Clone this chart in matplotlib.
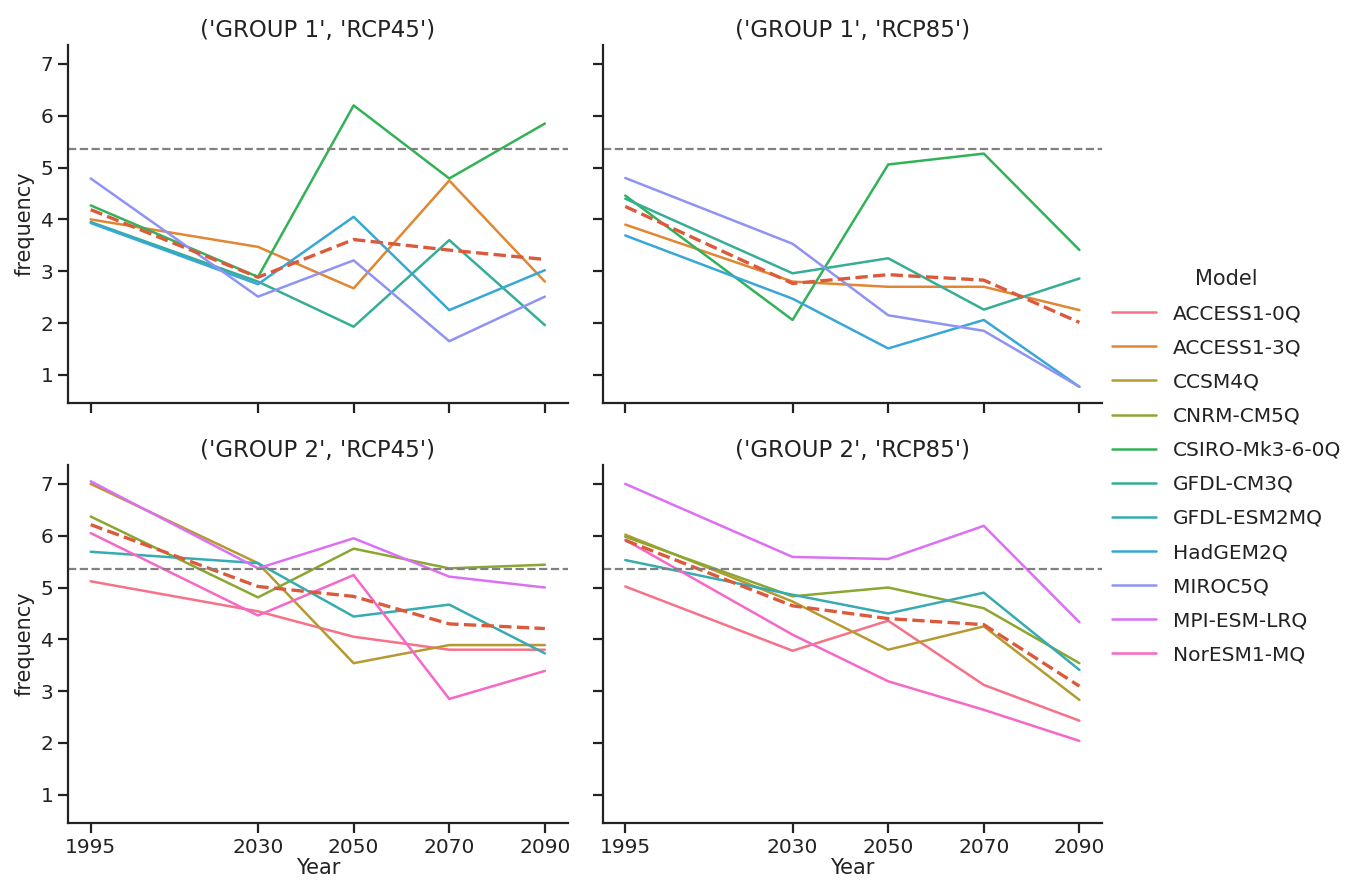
import numpy as np
import pandas as pd
import matplotlib
matplotlib.use("Agg")
import matplotlib.pyplot as plt
import seaborn as sns

# ── Data ──────────────────────────────────────────────────
years = [1995, 2030, 2050, 2070, 2090]
models = ["ACCESS1-0Q", "ACCESS1-3Q", "CCSM4Q", "CNRM-CM5Q", "CSIRO-Mk3-6-0Q",
          "GFDL-CM3Q", "GFDL-ESM2MQ", "HadGEM2Q", "MIROC5Q", "MPI-ESM-LRQ",
          "NorESM1-MQ"]
panels = [("GROUP 1", "RCP45"), ("GROUP 1", "RCP85"),
          ("GROUP 2", "RCP45"), ("GROUP 2", "RCP85")]

g1_rcp45 = {
    "ACCESS1-3Q":     [4.00, 3.47, 2.67, 4.75, 2.80],
    "CSIRO-Mk3-6-0Q": [4.27, 2.89, 6.20, 4.79, 5.85],
    "GFDL-CM3Q":      [3.95, 2.80, 1.93, 3.60, 1.96],
    "HadGEM2Q":       [3.93, 2.75, 4.05, 2.25, 3.02],
    "MIROC5Q":        [4.79, 2.51, 3.21, 1.65, 2.51],
}
g1_rcp85 = {
    "ACCESS1-3Q":     [3.90, 2.80, 2.70, 2.70, 2.25],
    "CSIRO-Mk3-6-0Q": [4.46, 2.06, 5.06, 5.27, 3.41],
    "GFDL-CM3Q":      [4.40, 2.96, 3.25, 2.26, 2.86],
    "HadGEM2Q":       [3.69, 2.47, 1.51, 2.06, 0.77],
    "MIROC5Q":        [4.80, 3.53, 2.15, 1.85, 0.77],
}
g2_rcp45 = {
    "ACCESS1-0Q":  [5.12, 4.54, 4.05, 3.80, 3.80],
    "CCSM4Q":      [7.00, 5.47, 3.54, 3.89, 3.89],
    "CNRM-CM5Q":   [6.37, 4.81, 5.75, 5.37, 5.44],
    "GFDL-ESM2MQ": [5.69, 5.47, 4.44, 4.67, 3.73],
    "MPI-ESM-LRQ": [7.05, 5.37, 5.95, 5.21, 5.00],
    "NorESM1-MQ":  [6.05, 4.46, 5.24, 2.85, 3.39],
}
g2_rcp85 = {
    "ACCESS1-0Q":  [5.02, 3.78, 4.36, 3.12, 2.43],
    "CCSM4Q":      [6.02, 4.73, 3.80, 4.25, 2.83],
    "CNRM-CM5Q":   [5.98, 4.83, 5.00, 4.60, 3.54],
    "GFDL-ESM2MQ": [5.53, 4.86, 4.50, 4.90, 3.41],
    "MPI-ESM-LRQ": [7.00, 5.59, 5.55, 6.19, 4.33],
    "NorESM1-MQ":  [5.92, 4.09, 3.19, 2.64, 2.04],
}
panel_data = [g1_rcp45, g1_rcp85, g2_rcp45, g2_rcp85]
reference_level = 5.36

# ── Style ─────────────────────────────────────────────────
sns.set_style("ticks")
plt.rcParams["font.family"] = ["DejaVu Sans"]
palette = dict(zip(models, sns.color_palette("husl", len(models))))
mean_color = "#dc5a3c"

fig, axes = plt.subplots(2, 2, figsize=(13.49, 8.84), dpi=100,
                         sharex=True, sharey=True)
fig.subplots_adjust(left=0.0504, right=0.817, top=0.949, bottom=0.069,
                    wspace=0.07, hspace=0.173)

for ax, (grp, rcp), data in zip(axes.flat, panels, panel_data):
    for m in models:
        if m in data:
            ax.plot(years, data[m], color=palette[m], linewidth=1.8, label=m)
    # dashed line = mean over the models in this panel
    mean_vals = pd.DataFrame(data).mean(axis=1)
    ax.plot(years, mean_vals, color=mean_color, linestyle="--", linewidth=2.4)
    ax.axhline(reference_level, color="gray", linestyle="--", linewidth=1.6)
    ax.set_title(str((grp, rcp)), fontsize=16.5, color="#222222")
    for s in ["top", "right"]:
        ax.spines[s].set_visible(False)
    for s in ["left", "bottom"]:
        ax.spines[s].set_linewidth(1.6)
        ax.spines[s].set_color("#222222")
    ax.tick_params(labelsize=14.5, width=1.6, length=7, colors="#222222")

for ax in axes[:, 0]:
    ax.set_ylabel("frequency", fontsize=15, color="#222222")
for ax in axes[1, :]:
    ax.set_xlabel("Year", fontsize=15, labelpad=1, color="#222222")

axes[0, 0].set_xticks(years)
axes[0, 0].set_yticks([1, 2, 3, 4, 5, 6, 7])

handles = [plt.Line2D([], [], color=palette[m], linewidth=1.8) for m in models]
leg = fig.legend(handles, models, title="Model", loc="center left",
                 bbox_to_anchor=(0.811, 0.472), frameon=False, fontsize=14.5,
                 title_fontsize=15, handlelength=2.2, labelspacing=0.75)
for t in leg.get_texts():
    t.set_color("#222222")

plt.savefig("out.png", dpi=100)
